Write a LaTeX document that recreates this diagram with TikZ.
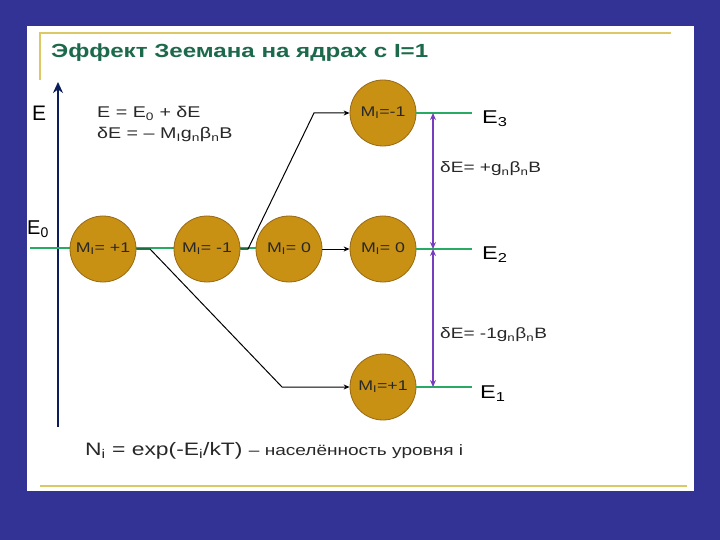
\documentclass[tikz,border=0pt]{standalone}
\usepackage{fontspec}
\setmainfont[FakeStretch=1.27]{Liberation Sans}
\newfontfamily\plainsf{Liberation Sans}
\usetikzlibrary{arrows.meta}
\definecolor{bgblue}{RGB}{51,51,150}
\definecolor{titlegreen}{RGB}{28,105,75}
\definecolor{lvlgreen}{RGB}{40,170,100}
\definecolor{frameyellow}{RGB}{220,200,100}
\definecolor{axisnavy}{RGB}{12,30,90}
\definecolor{goldfill}{RGB}{200,145,20}
\definecolor{golddraw}{RGB}{150,105,20}
\definecolor{purp}{RGB}{120,60,190}
\definecolor{txt}{RGB}{40,40,40}
\newcommand{\sbs}[1]{\textsubscript{#1}}
\tikzset{
  lvl/.style={lvlgreen, line width=1.6pt},
  ball/.style={circle, fill=goldfill, draw=golddraw, line width=0.8pt, minimum size=66pt, inner sep=0pt, font=\fontsize{14}{16}\selectfont, text=txt},
  conn/.style={black, line width=1pt, -{Stealth[length=6pt,width=5pt]}},
  split/.style={purp, line width=1.6pt, {Stealth[length=7pt,width=6pt]}-{Stealth[length=7pt,width=6pt]}},
  elab/.style={anchor=west, inner sep=0pt, font=\fontsize{18.5}{22}\selectfont},
  dlab/.style={anchor=west, inner sep=0pt, font=\fontsize{15}{17}\selectfont, text=txt}
}
\begin{document}
\begin{tikzpicture}[x=1pt,y=-1pt]
\fill[bgblue] (0,0) rectangle (720,540);
\useasboundingbox (0,0) rectangle (720,540);
\fill[white] (27,26) rectangle (694,491);
\draw[frameyellow, line width=1.5pt] (40,80) -- (40,33) -- (671,33);
\draw[frameyellow, line width=1.5pt] (40,486) -- (687,486);
\node[anchor=base west, inner sep=0pt, text=titlegreen, font=\fontsize{19}{22}\selectfont\bfseries] (title) at (51,58) {Эффект Зеемана на ядрах с I=1};
% axis
\coordinate (a0) at (58,427);
\coordinate (a1) at (58,82);
\draw[axisnavy, line width=2.6pt, -{Stealth[length=11pt,width=10pt]}] (a0) -- (a1);
\node[anchor=base west, inner sep=0pt, font=\plainsf\fontsize{21}{24}\selectfont] (E) at (32,121) {E};
\node[anchor=base west, inner sep=0pt, font=\plainsf\fontsize{20}{24}\selectfont] (E0) at (27,234) {E\sbs{0}};
% formulas
\node[anchor=base west, inner sep=0pt, font=\fontsize{15.5}{18}\selectfont, text=txt] (f1) at (97,118) {E = E\sbs{0} + δE};
\node[anchor=base west, inner sep=0pt, font=\fontsize{15.5}{18}\selectfont, text=txt] (f2) at (97,139) {δE = – M\sbs{I}g\sbs{n}β\sbs{n}B};
% E0 level
\coordinate (g0) at (30,248);
\coordinate (g1) at (258,248);
\draw[lvl] (g0) -- (g1);
% balls
\node[ball] (c1) at (103,249) {M\sbs{I}= +1};
\node[ball] (c2) at (207,249) {M\sbs{I}= -1};
\node[ball] (c3) at (289,249) {M\sbs{I}= 0};
\node[ball] (c4) at (383,249) {M\sbs{I}= 0};
\node[ball] (c5) at (383,113) {M\sbs{I}=-1};
\node[ball] (c6) at (383,387) {M\sbs{I}=+1};
% connectors
\coordinate (k1) at (150,249);
\coordinate (k2) at (282,387);
\draw[conn] (c1.east) -- (k1) -- (k2) -- (c6.west);
\coordinate (k3) at (248,249);
\coordinate (k4) at (314,113);
\draw[conn] (c2.east) -- (k3) -- (k4) -- (c5.west);
\draw[conn] (c3.east) -- (c4.west);
% levels
\coordinate (l3) at (472,113);
\coordinate (l2) at (472,249);
\coordinate (l1) at (472,387);
\draw[lvl] (c5.east) -- (l3);
\draw[lvl] (c4.east) -- (l2);
\draw[lvl] (c6.east) -- (l1);
\node[elab] (e3) at (482,119) {E\sbs{3}};
\node[elab] (e2) at (482,255) {E\sbs{2}};
\node[elab] (e1) at (480,394) {E\sbs{1}};
% splittings
\coordinate (p3) at (433,113);
\coordinate (p2) at (433,249);
\coordinate (p1) at (433,387);
\draw[split] (p3) -- (p2);
\draw[split] (p2) -- (p1);
\node[dlab] (d1) at (440,169) {δE= +g\sbs{n}β\sbs{n}B};
\node[dlab] (d2) at (440,335) {δE= -1g\sbs{n}β\sbs{n}B};
% population
\node[anchor=base west, inner sep=0pt, text=txt] (pop) at (85,455) {\fontsize{18}{20}\selectfont N\sbs{i} = exp(-E\sbs{i}/kT) {\fontsize{15}{16}\selectfont – населённость уровня i}};
\end{tikzpicture}
\end{document}
